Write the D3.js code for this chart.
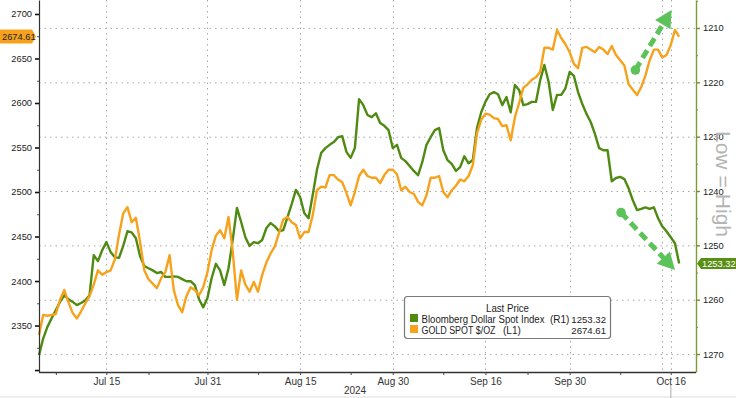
<!DOCTYPE html>
<html>
<head>
<meta charset="utf-8">
<script src="https://cdn.jsdelivr.net/npm/d3@7"></script>
<style>
  body { margin: 0; background: #fff; }
  svg { display: block; font-family: "Liberation Sans", Arial, sans-serif; }
</style>
</head>
<body>
<svg id="chart" width="736" height="398"></svg>
<script>
// gold spot, one value every half trading day from early July
const goldValues = [
  2339, 2362, 2361, 2362, 2363, 2379, 2390, 2376, 2364, 2358,
  2366, 2375, 2383, 2396, 2412, 2407, 2410, 2412, 2424, 2452,
  2476, 2483, 2466, 2471, 2444, 2412, 2402, 2397, 2392, 2403,
  2410, 2429, 2390, 2373, 2365, 2383, 2393, 2390, 2384, 2393,
  2410, 2435, 2451, 2457, 2448, 2472, 2433, 2379, 2412, 2396,
  2388, 2399, 2388, 2407, 2421, 2431, 2439, 2454, 2469, 2472,
  2466, 2463, 2448, 2455, 2455, 2474, 2502, 2506, 2505, 2519,
  2519, 2514, 2511, 2499, 2485, 2500, 2518, 2525, 2518, 2516,
  2516, 2510, 2519, 2525, 2525, 2520, 2502, 2506, 2500, 2498,
  2489, 2485, 2496, 2516, 2516, 2518, 2500, 2494, 2502, 2507,
  2514, 2512, 2518, 2530, 2566, 2581, 2588, 2587, 2583, 2582,
  2574, 2575, 2558, 2584, 2600, 2617, 2621, 2626, 2629, 2635,
  2662, 2662, 2660, 2682, 2673, 2666, 2657, 2644, 2639, 2662,
  2663, 2660, 2657, 2663, 2660, 2655, 2664, 2654, 2648, 2642,
  2621, 2615, 2609, 2618, 2631, 2648, 2660, 2660, 2651, 2654,
  2665, 2682, 2674.61
];

// Bloomberg Dollar Spot Index, same sampling (right axis, inverted)
const dollarValues = [
  1270.2, 1267.1, 1265.0, 1263.4, 1261.9, 1260.4, 1259.2, 1259.9, 1260.4, 1261.0,
  1260.6, 1260.1, 1259.2, 1251.8, 1252.9, 1250.9, 1249.4, 1251.2, 1252.2, 1252.3,
  1250.1, 1247.4, 1247.6, 1248.7, 1252.0, 1253.8, 1254.2, 1254.6, 1255.1, 1254.9,
  1255.8, 1255.8, 1255.7, 1255.8, 1256.2, 1256.6, 1256.6, 1257.3, 1259.9, 1261.4,
  1259.7, 1256.0, 1253.4, 1254.6, 1257.3, 1254.2, 1249.0, 1243.1, 1245.7, 1248.5,
  1250.1, 1249.4, 1249.6, 1249.0, 1246.8, 1245.9, 1246.5, 1247.4, 1247.2, 1244.8,
  1242.4, 1239.8, 1241.1, 1244.1, 1245.0, 1240.7, 1236.1, 1233.0, 1232.1, 1231.5,
  1231.0, 1230.1, 1229.9, 1232.8, 1233.9, 1232.1, 1223.1, 1224.2, 1226.0, 1226.4,
  1225.7, 1227.5, 1228.0, 1228.8, 1232.1, 1231.5, 1233.9, 1234.5, 1235.4, 1236.3,
  1237.1, 1234.7, 1231.5, 1230.1, 1228.8, 1228.4, 1232.5, 1234.3, 1235.0, 1236.3,
  1235.6, 1233.6, 1234.9, 1234.3, 1228.4, 1225.5, 1223.6, 1222.2, 1221.8, 1222.2,
  1224.2, 1222.7, 1225.5, 1220.5, 1221.4, 1224.2, 1224.0, 1223.6, 1223.6, 1219.6,
  1216.8, 1219.9, 1225.1, 1222.3, 1222.3, 1221.1, 1218.1, 1218.8, 1221.8, 1224.0,
  1225.8, 1227.3, 1229.5, 1232.1, 1232.5, 1232.5, 1238.2, 1237.6, 1237.4, 1237.8,
  1239.5, 1241.7, 1243.5, 1243.3, 1243.0, 1243.3, 1243.0, 1245.0, 1246.5, 1247.4,
  1248.5, 1249.6, 1253.32
];

const dayStep = 0.5;
const xTickLabels = ["Jul 15", "Jul 31", "Aug 15", "Aug 30", "Sep 16", "Sep 30", "Oct 16"];
const xTickDays = [8, 20, 31, 42, 53, 63, 75];
const xMinorDays = [2, 13, 26, 37, 48, 58, 69];
const extraGridDay = 74;
const yearLabel = "2024";

const goldTicks = [2300, 2350, 2400, 2450, 2500, 2550, 2600, 2650, 2700];
const goldMinor = [2325, 2375, 2425, 2475, 2525, 2575, 2625, 2675];
const dollarTicks = [1210, 1220, 1230, 1240, 1250, 1260, 1270];
const dollarMinor = [1205, 1215, 1225, 1235, 1245, 1255, 1265];

const seriesNames = ["Bloomberg Dollar Spot Index", "GOLD SPOT $/OZ"];
const seriesAxes = ["(R1)", "(L1)"];
const lastValues = ["1253.32", "2674.61"];
const legendTitle = "Last Price";
const sideNote = ["Low", "=", "High"];

const green = "#4f8a12", orange = "#f7a21c", arrowGreen = "#5cc35a";

const svg = d3.select("#chart");
const x = d3.scaleLinear().domain([0, 78]).range([39, 696]);
const yGold = d3.scaleLinear().domain([2297.8, 2715.7]).range([372, 0]);
const yDollar = d3.scaleLinear().domain([1204.85, 1273.3]).range([0, 372]);

// grid
const grid = svg.append("g").attr("stroke", "#a8a8a8").attr("stroke-width", 1)
  .attr("stroke-dasharray", "1.5,4");
grid.selectAll(".h").data(dollarTicks).enter().append("line")
  .attr("x1", 39).attr("x2", 696)
  .attr("y1", d => yDollar(d) + 0.5).attr("y2", d => yDollar(d) + 0.5);
grid.selectAll(".v").data(xTickDays.concat([extraGridDay])).enter().append("line")
  .attr("y1", 0).attr("y2", 372)
  .attr("x1", d => Math.round(x(d)) + 0.5).attr("x2", d => Math.round(x(d)) + 0.5);

// bottom strip and "now" marker
svg.append("rect").attr("x", 0).attr("y", 396).attr("width", 736).attr("height", 2).attr("fill", "#eeeeee");
svg.append("line").attr("x1", x(75)).attr("x2", x(75)).attr("y1", 385).attr("y2", 398)
  .attr("stroke", "#c4c4c4").attr("stroke-width", 1.5);

// lines
const lineGen = (yScale) => d3.line()
  .x((d, i) => x(i * dayStep))
  .y(d => yScale(d));

svg.append("path").datum(dollarValues)
  .attr("fill", "none").attr("stroke", green).attr("stroke-width", 2.4)
  .attr("stroke-linejoin", "round").attr("d", lineGen(yDollar));
svg.append("path").datum(goldValues)
  .attr("fill", "none").attr("stroke", orange).attr("stroke-width", 2.4)
  .attr("stroke-linejoin", "round").attr("d", lineGen(yGold));

// axes
const leftAxis = svg.append("g").attr("transform", "translate(39,0)")
  .call(d3.axisLeft(yGold).tickValues(goldTicks).tickSize(4).tickSizeOuter(0)
    .tickFormat(d => d === 2300 ? "" : d));
leftAxis.selectAll("text").attr("font-size", 9.3).attr("fill", "#222").attr("font-family", "Liberation Sans");
leftAxis.selectAll("line").attr("stroke", "#111").attr("stroke-width", 1.6);
leftAxis.select(".domain").attr("stroke", "#333").attr("stroke-width", 1.2);
svg.append("g").attr("transform", "translate(39,0)")
  .call(d3.axisLeft(yGold).tickValues(goldMinor).tickSize(2).tickFormat(""))
  .call(g => g.select(".domain").remove())
  .selectAll("line").attr("stroke", "#555");

const rightAxis = svg.append("g").attr("transform", "translate(696,0)")
  .call(d3.axisRight(yDollar).tickValues(dollarTicks).tickSize(4).tickSizeOuter(0)
    .tickFormat(d => d));
rightAxis.selectAll("text").attr("font-size", 9.3).attr("fill", "#222").attr("font-family", "Liberation Sans");
rightAxis.selectAll("line").attr("stroke", "#6f9128").attr("stroke-width", 1.4);
rightAxis.select(".domain").attr("stroke", "#7d9c34").attr("stroke-width", 1.4);
svg.append("g").attr("transform", "translate(696,0)")
  .call(d3.axisRight(yDollar).tickValues(dollarMinor).tickSize(2).tickFormat(""))
  .call(g => g.select(".domain").remove())
  .selectAll("line").attr("stroke", "#7d9c34");

const bottomAxis = svg.append("g").attr("transform", "translate(0,372)")
  .call(d3.axisBottom(x).tickValues(xTickDays).tickSize(3).tickSizeOuter(0)
    .tickFormat((d, i) => xTickLabels[i]));
bottomAxis.selectAll("text").attr("font-size", 10).attr("fill", "#333").attr("font-family", "Liberation Sans");
bottomAxis.selectAll("line").attr("stroke", "#444");
bottomAxis.select(".domain").attr("stroke", "#333").attr("stroke-width", 1.3)
  .attr("d", `M${x.range()[0]},0.5H${x.range()[1]}`);
svg.append("g").attr("transform", "translate(0,372)")
  .call(d3.axisBottom(x).tickValues(xMinorDays).tickSize(3).tickFormat(""))
  .call(g => g.select(".domain").remove())
  .selectAll("line").attr("stroke", "#444");

svg.append("text").attr("x", 355).attr("y", 394).attr("text-anchor", "middle")
  .attr("font-size", 10).attr("fill", "#333").text(yearLabel);

// last-price tags
const goldY = yGold(+lastValues[1]);
svg.append("path")
  .attr("d", `M0,${goldY - 7}H32L36,${goldY}L32,${goldY + 7}H0Z`)
  .attr("fill", orange);
svg.append("text").attr("x", 2).attr("y", goldY + 3.3).attr("font-size", 9.3)
  .attr("fill", "#222").text(lastValues[1]);

const dolY = yDollar(+lastValues[0]);
svg.append("path")
  .attr("d", `M697,${dolY}L701,${dolY - 5.5}H736V${dolY + 5.5}H701Z`)
  .attr("fill", "#5a8f16");
svg.append("text").attr("x", 702).attr("y", dolY + 3.3).attr("font-size", 9.3)
  .attr("fill", "#fff").text(lastValues[0]);

// side note, rotated, words placed one after another
const note = svg.append("text")
  .attr("transform", "translate(716,131) rotate(90)")
  .attr("font-size", 21).attr("fill", "#b4b4b4");
note.selectAll("tspan").data(sideNote).enter().append("tspan")
  .attr("dx", (d, i) => i === 0 ? 0 : 6)
  .text(d => d);

// arrows
function arrow(x1, y1, x2, y2) {
  const g = svg.append("g");
  const dx = x2 - x1, dy = y2 - y1, len = Math.hypot(dx, dy);
  const ux = dx / len, uy = dy / len, head = 17, hw = 9;
  const bx = x2 - ux * head, by = y2 - uy * head;
  g.append("line").attr("x1", x1).attr("y1", y1).attr("x2", bx + ux * 2).attr("y2", by + uy * 2)
    .attr("stroke", arrowGreen).attr("stroke-width", 5).attr("stroke-dasharray", "9,5");
  g.append("circle").attr("cx", x1).attr("cy", y1).attr("r", 4.8).attr("fill", arrowGreen);
  g.append("path")
    .attr("d", `M${x2},${y2}L${bx - uy * hw},${by + ux * hw}L${bx + uy * hw},${by - ux * hw}Z`)
    .attr("fill", arrowGreen);
}
arrow(x(70.8), yGold(2637), x(75.1), yGold(2704.5));
arrow(x(69.1), yDollar(1243.96), x(75.5), yDollar(1254.55));

// legend
const lg = svg.append("g");
lg.append("rect").attr("x", 404.5).attr("y", 296.5).attr("width", 206).attr("height", 42).attr("rx", 3)
  .attr("fill", "#fff").attr("stroke", "#7a7a7a").attr("stroke-width", 1.2);
lg.append("text").attr("x", 486).attr("y", 311.5).attr("font-size", 10).attr("fill", "#222")
  .attr("textLength", 43).attr("lengthAdjust", "spacingAndGlyphs").text(legendTitle);
const rows = [
  { name: seriesNames[0], ax: seriesAxes[0], val: lastValues[0], color: green, w: 123, axX: 550 },
  { name: seriesNames[1], ax: seriesAxes[1], val: lastValues[1], color: orange, w: 74, axX: 503 }
];
rows.forEach((r, i) => {
  const yb = 322.5 + i * 11;
  lg.append("rect").attr("x", 410).attr("y", yb - 8.5).attr("width", 8).attr("height", 8).attr("fill", r.color);
  lg.append("text").attr("x", 421.5).attr("y", yb).attr("font-size", 10).attr("fill", "#222")
    .attr("textLength", r.w).attr("lengthAdjust", "spacingAndGlyphs").text(r.name);
  lg.append("text").attr("x", r.axX).attr("y", yb).attr("font-size", 10).attr("fill", "#222")
    .text(r.ax);
  lg.append("text").attr("x", 606).attr("y", yb).attr("font-size", 9.6).attr("fill", "#222")
    .attr("text-anchor", "end").text(r.val);
});
</script>
</body>
</html>
